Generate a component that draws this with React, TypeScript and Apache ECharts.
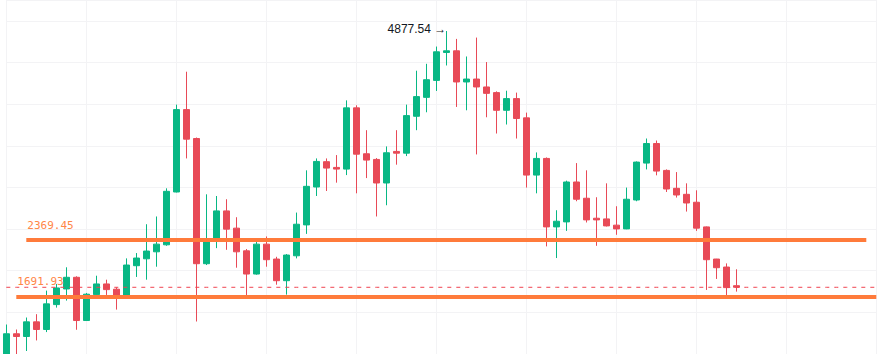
import React, { useEffect, useRef } from "react";
import * as echarts from "echarts";

// Candle data: [open, close, low, high]
const candles: number[][] = [
  [980, 1243, 950, 1354],
  [1243, 1210, 990, 1294],
  [1210, 1386, 1036, 1438],
  [1386, 1294, 1163, 1478],
  [1294, 1602, 1263, 1761],
  [1593, 1793, 1557, 1841],
  [1781, 1921, 1641, 2041],
  [1921, 1402, 1291, 1933],
  [1402, 1718, 1398, 1733],
  [1713, 1841, 1701, 1940],
  [1841, 1773, 1709, 1892],
  [1778, 1694, 1533, 1801],
  [1694, 2068, 1690, 2148],
  [2060, 2152, 1925, 2212],
  [2143, 2236, 1892, 2558],
  [2227, 2319, 2048, 2651],
  [2311, 2953, 2299, 2989],
  [2945, 3934, 2940, 3994],
  [3934, 3579, 3348, 4389],
  [3587, 2084, 1390, 3599],
  [2084, 2355, 2068, 2917],
  [2373, 2718, 2271, 2897],
  [2718, 2499, 2251, 2858],
  [2511, 2227, 2036, 2642],
  [2239, 1960, 1701, 2260],
  [1960, 2319, 1952, 2391],
  [2319, 2132, 2048, 2411],
  [2140, 1880, 1832, 2167],
  [1880, 2188, 1713, 2200],
  [2179, 2558, 2148, 2698],
  [2550, 3013, 2442, 3205],
  [3005, 3312, 2897, 3348],
  [3309, 3232, 2957, 3348],
  [3240, 3220, 3057, 3388],
  [3220, 3955, 3148, 4045],
  [3955, 3399, 2929, 3986],
  [3404, 3328, 3112, 3687],
  [3336, 3053, 2651, 3352],
  [3053, 3416, 2786, 3492],
  [3432, 3411, 3273, 3687],
  [3411, 3862, 3376, 3994],
  [3854, 4090, 3687, 4401],
  [4081, 4293, 3902, 4484],
  [4285, 4628, 4158, 4691],
  [4620, 4640, 4464, 4877.54],
  [4640, 4266, 3966, 4783],
  [4266, 4301, 3926, 4572],
  [4301, 4206, 3396, 4799],
  [4206, 4129, 3842, 4505],
  [4138, 3926, 3647, 4153],
  [3926, 4066, 3755, 4161],
  [4066, 3827, 3587, 4138],
  [3835, 3148, 2998, 3898],
  [3148, 3348, 2929, 3420],
  [3348, 2526, 2292, 3360],
  [2526, 2594, 2152, 2726],
  [2586, 3065, 2478, 3081],
  [3065, 2858, 2834, 3292],
  [2870, 2610, 2579, 3205],
  [2630, 2610, 2299, 2882],
  [2622, 2538, 2531, 3049],
  [2547, 2502, 2431, 2774],
  [2502, 2858, 2498, 2998],
  [2849, 3304, 2834, 3312],
  [3292, 3527, 3216, 3587],
  [3527, 3196, 3145, 3563],
  [3204, 2981, 2945, 3216],
  [2989, 2909, 2878, 3184],
  [2917, 2813, 2710, 3049],
  [2822, 2511, 2478, 2965],
  [2526, 2132, 1769, 2531],
  [2140, 2036, 1901, 2142],
  [2044, 1797, 1701, 2088],
  [1820, 1801, 1749, 2017],
];

const totalSlots = 88;
const categories: string[] = Array.from({ length: totalSlots }, (_, i) => String(i));
const gridIndices: number[] = [0, 8, 17, 26, 35, 43, 52, 61, 69, 78, 87];

const levelValues: number[] = [2369.45, 1691.93];
const levelStart: number[] = [2, 1];
const levelEnd: number[] = [86, 87];

const highIndex = 44;
const highValue = 4877.54;
const lastPrice = 1801;

const UP = "#08b784";
const DOWN = "#e84a57";
const ORANGE = "#ff7b3b";

export default function App() {
  const ref = useRef<HTMLDivElement>(null);
  useEffect(() => {
    if (!ref.current) return;
    const chart = echarts.init(ref.current, undefined, { renderer: "svg" });
    const seriesData: any[] = categories.map((_, i) => (i < candles.length ? candles[i] : "-"));
    const lastLine: number[] = categories.map(() => lastPrice);
    chart.setOption({
      animation: false,
      backgroundColor: "#ffffff",
      grid: { left: 6.3, width: 870, top: -0.3, height: 356.7, containLabel: false },
      xAxis: {
        type: "category",
        data: categories,
        boundaryGap: false,
        axisLine: { show: false },
        axisTick: { show: false },
        axisLabel: { show: false },
        splitLine: {
          show: true,
          interval: (index: number) => gridIndices.includes(index),
          lineStyle: { color: "#f3f3f5", width: 1 },
        },
      },
      yAxis: {
        type: "value",
        min: 1000,
        max: 5250,
        interval: 500,
        axisLine: { show: false },
        axisTick: { show: false },
        axisLabel: { show: false },
        splitLine: { show: true, lineStyle: { color: "#f3f3f5", width: 1 } },
      },
      series: [
        {
          type: "line",
          name: "last",
          data: lastLine,
          silent: true,
          symbol: "none",
          z: 3,
          itemStyle: { color: DOWN },
          lineStyle: { color: "#f0434f", width: 1, type: [4, 5] },
        },
        {
          type: "candlestick",
          data: seriesData,
          barWidth: 6,
          z: 2,
          itemStyle: {
            color: UP,
            color0: DOWN,
            borderColor: UP,
            borderColor0: DOWN,
            borderWidth: 1,
          },
          markPoint: {
            symbol: "circle",
            symbolSize: 0,
            data: [{ coord: [highIndex, highValue], value: highValue }],
            label: {
              show: true,
              position: "left",
              distance: 2,
              offset: [2, -2],
              formatter: (p: any) => `${p.value} →`,
              color: "#131722",
              fontSize: 12,
              fontFamily: "Liberation Sans, Arial, sans-serif",
            },
          },
          markLine: {
            symbol: ["none", "none"],
            silent: true,
            data: levelValues.map((v, i) => [
              {
                coord: [levelStart[i], v],
                value: v,
                lineStyle: { color: ORANGE, width: 4, type: "solid", opacity: 1 },
                label: {
                  show: true,
                  position: "insideStartTop",
                  distance: [1, 9],
                  formatter: () => v.toFixed(2),
                  color: "#ff8646",
                  fontSize: 11,
                  fontFamily: "DejaVu Sans Mono, monospace",
                },
              },
              { coord: [levelEnd[i], v] },
            ]),
          },
        },
      ],
    });
    return () => chart.dispose();
  }, []);
  return (
    <div
      ref={ref}
      style={{ position: "absolute", left: 0, top: 0, width: 877, height: 354 }}
    />
  );
}
